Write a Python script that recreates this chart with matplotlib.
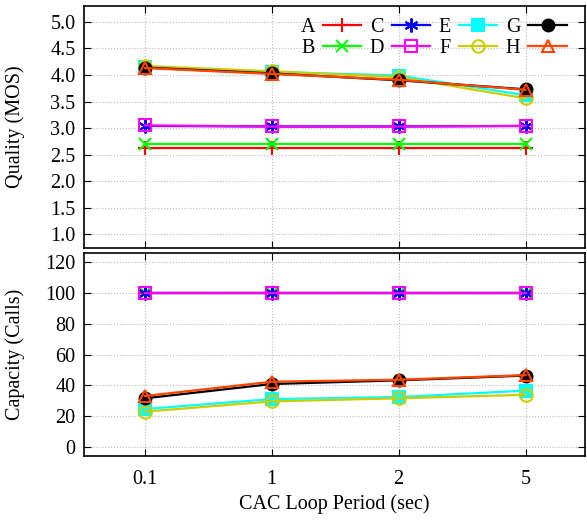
import matplotlib
matplotlib.use('Agg')
import matplotlib.pyplot as plt

#x axis categories
periods = ['0.1', '1', '2', '5']

#quality (MOS) per scheme
qualA = [2.62, 2.62, 2.62, 2.62]
qualB = [2.70, 2.70, 2.70, 2.70]
qualC = [3.04, 3.03, 3.03, 3.04]
qualD = [3.05, 3.03, 3.03, 3.04]
qualE = [4.15, 4.06, 3.99, 3.62]
qualF = [4.17, 4.07, 3.96, 3.56]
qualG = [4.14, 4.03, 3.90, 3.73]
qualH = [4.13, 4.02, 3.91, 3.72]

#capacity (calls) per scheme
capA = [100, 100, 100, 100]
capB = [100, 100, 100, 100]
capC = [100, 100, 100, 100]
capD = [100, 100, 100, 100]
capE = [24.5, 31.0, 32.3, 36.5]
capF = [22.8, 29.5, 31.5, 33.8]
capG = [31.5, 40.8, 43.2, 46.3]
capH = [33.0, 42.3, 43.6, 46.6]

names = ['A', 'B', 'C', 'D', 'E', 'F', 'G', 'H']
quality = [qualA, qualB, qualC, qualD, qualE, qualF, qualG, qualH]
capacity = [capA, capB, capC, capD, capE, capF, capG, capH]

#gnuplot like styles
styles = [
    dict(color='#ff0000', marker='+', markersize=10, mew=1.5),
    dict(color='#00ff00', marker='x', markersize=8, mew=1.5),
    dict(color='#0000ff', marker=(6, 2, 0), markersize=10, mew=1.5),
    dict(color='#ff00ff', marker='s', markersize=8.5, mew=1.5, mfc='none'),
    dict(color='#00ffff', marker='s', markersize=8, mew=1.5),
    dict(color='#cccc00', marker='o', markersize=9, mew=1.5, mfc='none'),
    dict(color='#000000', marker='o', markersize=8.5, mew=1.5),
    dict(color='#ff4500', marker='^', markersize=8.5, mew=1.5, mfc='none'),
]

plt.rcParams['font.family'] = ['Liberation Serif', 'DejaVu Serif']
plt.rcParams['font.size'] = 14.5

fig = plt.figure(figsize=(5.87, 5.21), dpi=100)
axTop = fig.add_axes([0.143, 0.524, 0.854, 0.4645])
axBot = fig.add_axes([0.143, 0.125, 0.854, 0.389])

xpos = list(range(len(periods)))

for i in range(len(names)):
    axTop.plot(xpos, quality[i], lw=1.6, label=names[i], **styles[i])
    axBot.plot(xpos, capacity[i], lw=1.6, **styles[i])

#top panel setup
axTop.set_ylim(0.74, 5.3)
axTop.set_yticks([1.0, 1.5, 2.0, 2.5, 3.0, 3.5, 4.0, 4.5, 5.0])
axTop.set_yticklabels(['%.1f' % v for v in axTop.get_yticks()])
axTop.set_ylabel('Quality (MOS)')
axTop.set_xticklabels([])

#bottom panel setup
axBot.set_ylim(-6, 126)
axBot.set_yticks([0, 20, 40, 60, 80, 100, 120])
axBot.set_ylabel('Capacity (Calls)')
axBot.set_xlabel('CAC Loop Period (sec)')

for ax in (axTop, axBot):
    ax.set_xlim(-0.48, 3.47)
    ax.set_xticks(xpos)
    ax.grid(True, linestyle=':', color='#bbbbbb', linewidth=0.8)
    ax.tick_params(direction='in', top=True, right=True, length=5, pad=6)
    for s in ax.spines.values():
        s.set_linewidth(1.2)
    ax.yaxis.set_label_coords(-0.118, 0.5)
axBot.set_xticklabels(periods)
axBot.tick_params(axis='x', pad=10)

axTop.legend(loc='upper right', bbox_to_anchor=(0.983, 0.993), ncol=4,
             frameon=False, markerfirst=False,
             handlelength=1.9, columnspacing=0.42, handletextpad=0.4,
             labelspacing=0.1, borderaxespad=0.2, borderpad=0.3)

fig.savefig('out.png', dpi=100)
